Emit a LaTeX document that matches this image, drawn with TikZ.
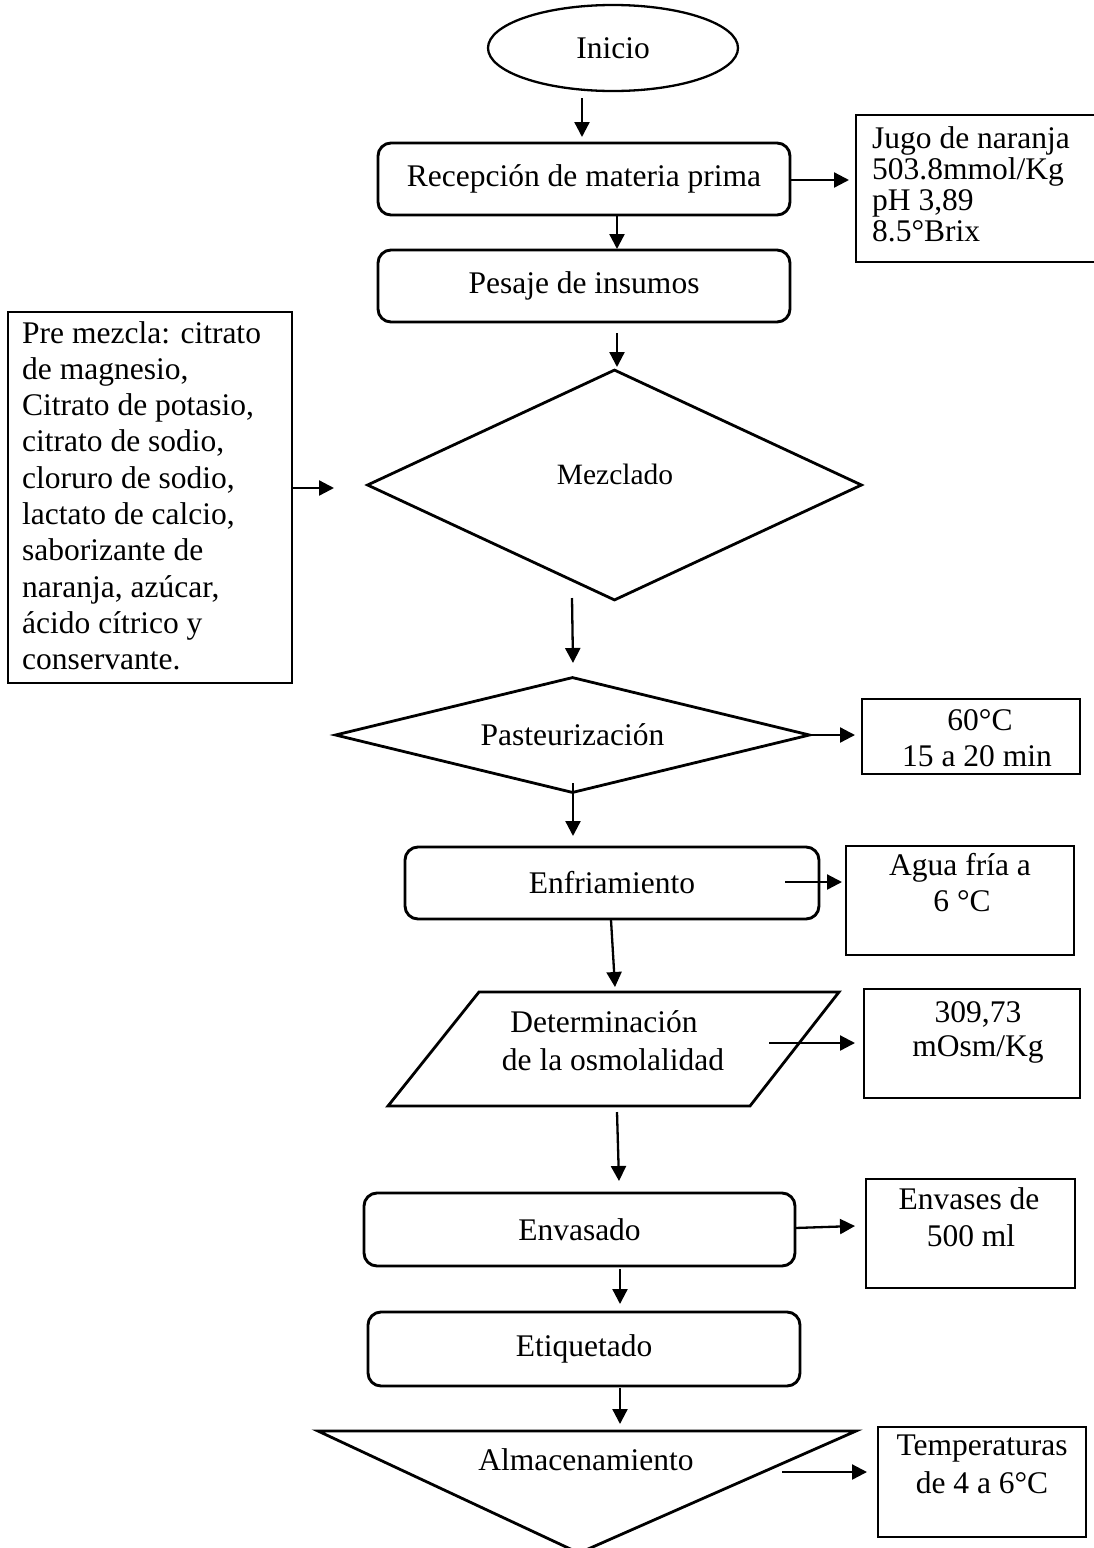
\documentclass[tikz,border=0pt]{standalone}
\usepackage{fontspec}
\setmainfont{Liberation Serif}
\usetikzlibrary{shapes.geometric,arrows.meta}
\begin{document}
\begin{tikzpicture}[x=1pt,y=-1pt,
  every node/.style={font=\fontsize{31.5}{36}\selectfont},
  proc/.style={draw, rounded corners=13pt, line width=2.9pt, inner sep=0pt},
  sidebox/.style={draw, line width=1.5pt, inner sep=0pt},
  outl/.style={draw, line width=2.8pt, line join=miter},
  ln/.style={inner sep=0pt, anchor=base},
  lnl/.style={inner sep=0pt, anchor=base west},
  flow/.style={line width=2.3pt, -{Triangle[length=15pt,width=15pt]}},
]
\useasboundingbox (0,0) rectangle (1094,1548);
\clip (0,0) rectangle (1094,1548);

% main shapes
\node[draw, ellipse, line width=2.3pt, minimum width=250, minimum height=86, inner sep=0pt] (inicio) at (613,48) {Inicio};
\node[proc, minimum width=412, minimum height=72] (rec) at (584,179) {Recepción de materia prima};
\node[proc, minimum width=412, minimum height=72] (pes) at (584,286) {Pesaje de insumos};
\node[draw, diamond, line width=2.8pt, minimum width=495, minimum height=231, inner sep=0pt] (mez) at (614.5,485) {};
\node[font=\fontsize{29.5}{34}\selectfont, inner sep=0pt] (mezt) at (615,474) {Mezclado};
\node[draw, diamond, shape aspect=4.1, line width=2.8pt, minimum width=475, minimum height=116, inner sep=0pt] (past) at (572.5,735) {Pasteurización};
\node[proc, minimum width=414, minimum height=72] (enf) at (612,883) {Enfriamiento};
\draw[outl] (479,992) coordinate (det1) -- (839,992) coordinate (det2) -- (750,1106) coordinate (det3) -- (388,1106) coordinate (det4) -- cycle;
\node[ln] (dett1) at (604,1032) {Determinación};
\node[ln] (dett2) at (613,1070) {de la osmolalidad};
\node[proc, minimum width=431, minimum height=73] (env) at (579.5,1229.5) {Envasado};
\node[proc, minimum width=432, minimum height=74] (eti) at (584,1349) {Etiquetado};
\draw[outl] (318,1431) coordinate (alm1) -- (856,1431) coordinate (alm2) -- (579,1553) coordinate (alm3) -- cycle;
\node[ln] (almt) at (586,1470) {Almacenamiento};

% side boxes
\node[sidebox, minimum width=240, minimum height=147] (jugo) at (976,188.5) {};
\node[lnl] (jugo1) at (872,148) {Jugo de naranja};
\node[lnl] (jugo2) at (872,179) {503.8mmol/Kg};
\node[lnl] (jugo3) at (872,210) {pH 3,89};
\node[lnl] (jugo4) at (872,241) {8.5°Brix};

\node[sidebox, minimum width=284, minimum height=371] (pre) at (150,497.5) {};
\foreach \t [count=\i from 0] in {{Pre mezcla: citrato},{de magnesio,},{Citrato de potasio,},{citrato de sodio,},{cloruro de sodio,},{lactato de calcio,},{saborizante de},{naranja, azúcar,},{ácido cítrico y},{conservante.}}
  \node[lnl] (pre\i) at (22,343+36.3*\i) {\t};

\node[sidebox, minimum width=218, minimum height=75] (t60) at (971,736.5) {};
\node[ln] (t60a) at (980,730) {60°C};
\node[ln] (t60b) at (977,766) {15 a 20 min};

\node[sidebox, minimum width=228, minimum height=109] (agua) at (960,900.5) {};
\node[ln] (aguaa) at (960,875) {Agua fría a};
\node[ln] (aguab) at (962,911) {6 °C};

\node[sidebox, minimum width=216, minimum height=109] (osm) at (972,1043.5) {};
\node[ln] (osma) at (978,1022) {309,73};
\node[ln] (osmb) at (978,1056) {mOsm/Kg};

\node[sidebox, minimum width=209, minimum height=109] (envs) at (970.5,1233.5) {};
\node[ln] (envsa) at (969,1209) {Envases de};
\node[ln] (envsb) at (971,1246) {500 ml};

\node[sidebox, minimum width=208, minimum height=110] (temp) at (982,1482) {};
\node[ln] (tempa) at (982,1455) {Temperaturas};
\node[ln] (tempb) at (982,1493) {de 4 a 6°C};

% connectors
\coordinate (c1s) at (582,98);    \coordinate (c1e) at (582,137);
\coordinate (c2s) at (617,216);   \coordinate (c2e) at (617,249);
\coordinate (c3s) at (790,180);   \coordinate (c3e) at (849,180);
\coordinate (c4s) at (617,333);   \coordinate (c4e) at (617,367);
\coordinate (c5s) at (292,488);   \coordinate (c5e) at (334,488);
\coordinate (c6s) at (572,598);   \coordinate (c6e) at (573,663);
\coordinate (c7s) at (810,735);   \coordinate (c7e) at (855,735);
\coordinate (c8s) at (573,783);   \coordinate (c8e) at (573,836);
\coordinate (c9s) at (785,882);   \coordinate (c9e) at (842,882);
\coordinate (c10s) at (611,920);  \coordinate (c10e) at (615,987);
\coordinate (c11s) at (769,1043); \coordinate (c11e) at (855,1043);
\coordinate (c12s) at (617,1112); \coordinate (c12e) at (619,1181);
\coordinate (c13s) at (795,1228); \coordinate (c13e) at (855,1226);
\coordinate (c14s) at (620,1269); \coordinate (c14e) at (620,1304);
\coordinate (c15s) at (620,1388); \coordinate (c15e) at (620,1424);
\coordinate (c16s) at (782,1472); \coordinate (c16e) at (867,1472);
\foreach \k in {1,...,16} \draw[flow] (c\k s) -- (c\k e);
\end{tikzpicture}
\end{document}
